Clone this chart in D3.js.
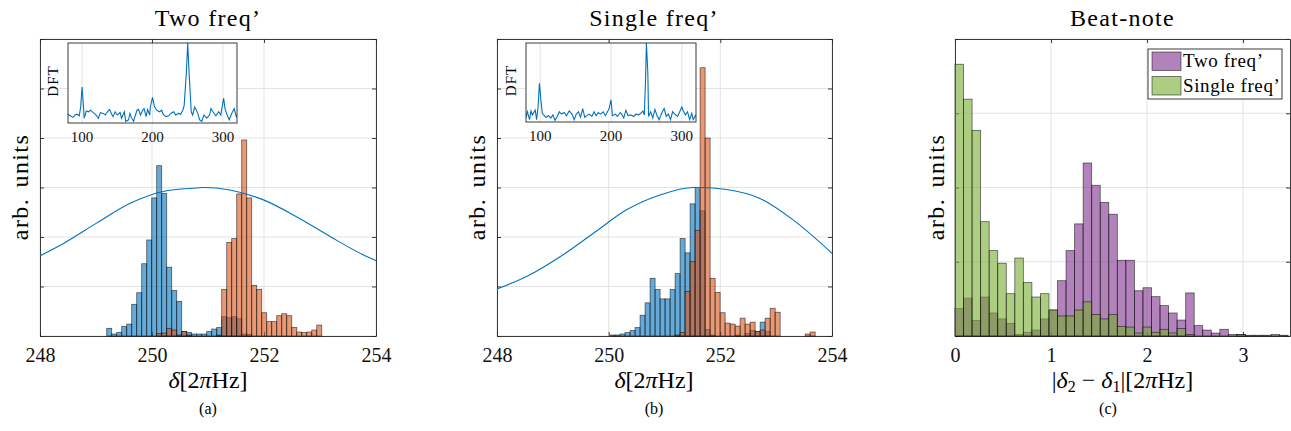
<!DOCTYPE html>
<html>
<head>
<meta charset="utf-8">
<script src="https://cdn.jsdelivr.net/npm/d3@7"></script>
<style>
  body { margin: 0; background: #fff; }
  svg { display: block; font-family: "Liberation Serif", "Times New Roman", serif; }
</style>
</head>
<body>
<div id="fig"></div>
<script>
// ---------- data ----------
// Panel (a) "Two freq'" histogram bins
const twoBinStart = 249.191;
const twoBinWidth = 0.0893;
const twoBlue = [0.155,0.04,0.074,0.195,0.24,0.64,0.875,1.46,1.94,2.79,
                 3.44,2.88,1.39,0.92,0.70,0.09,0.07,0.04,0.04,0.04,
                 0.09,0.14,0.17,0.39,0.37,0.39,0.35,0.04,0.03];
const twoOrange = [0,0,0,0,0,0,0,0,0,0,
                   0.05,0.06,0.155,0.12,0.02,0.09,0.02,0,0,0,
                   0,0,0.02,0.94,1.89,1.97,2.87,3.96,2.79,1.02,
                   0.94,0.47,0.29,0.29,0.41,0.45,0.41,0.17,0.08,0.07,
                   0.08,0.12,0.22];
const twoCurveX = [248.0,248.42,249.01,249.61,250.20,250.80,250.92,251.39,251.99,252.58,253.18,253.77,254.0];
const twoCurveY = [1.62,1.87,2.28,2.68,2.92,2.99,3.0,2.95,2.75,2.41,2.01,1.64,1.52];

// Panel (b) "Single freq'"
const singleBinStart = 250.025;
const singleBinWidth = 0.0896;
const singleBlue = [0.02,0.02,0.04,0.07,0.11,0.17,0.42,0.67,1.165,0.94,
                    0.75,0.75,0.94,1.26,1.97,1.68,2.67,3.0,2.53,0.13,
                    0.02,0,0,0,0,0.02,0,0.05,0.11,0.09,
                    0.28,0.09];
const singleOrange = [0,0,0,0,0,0,0,0,0,0,
                      0,0,0,0.02,0.07,0.9,1.5,2.13,5.42,4.0,
                      1.165,0.88,0.47,0.26,0.24,0.2,0.36,0.24,0.28,0.09,
                      0.12,0.36,0.56,0.48,0,0,0,0,0,0.04,
                      0.08];
const singleCurveX = [248.0,248.53,249.13,249.72,250.32,250.92,251.52,251.64,252.11,252.71,253.31,254.0];
const singleCurveY = [0.95,1.20,1.60,2.07,2.55,2.85,3.0,3.0,2.96,2.78,2.34,1.67];

// Insets: DFT traces
const dftXA = [80,83,87,90,93,96,98,100,102,103,106,109,112,116,120,123,126,130,133,136,
               139,142,144,147,150,154,156,160,162,166,168,170,173,178,180,183,186,188,191,193,
               196,197,200,203,206,210,213,215,219,223,226,230,233,237,240,243,245,248,250,252,
               255,257,260,264,267,270,273,277,281,283,286,290,294,297,301,303,306,309,312,316,
               319,320];
const dftYA = [0.11,0.09,0.07,0.10,0.11,0.09,0.20,0.45,0.20,0.06,0.15,0.14,0.16,0.13,0.10,0.06,0.13,0.12,0.10,0.14,
               0.17,0.11,0.08,0.14,0.10,0.13,0.06,0.14,0.02,0.04,0.12,0.07,0.02,0.16,0.17,0.10,0.16,0.18,0.08,0.17,
               0.10,0.20,0.32,0.20,0.16,0.14,0.16,0.11,0.08,0.09,0.12,0.14,0.10,0.12,0.11,0.16,0.22,0.62,1.0,0.62,
               0.14,0.10,0.20,0.13,0.04,0.02,0.10,0.06,0.10,0.18,0.14,0.09,0.14,0.10,0.31,0.18,0.10,0.04,0.11,0.18,
               0.08,0.10];
const dftXB = [80,82,85,87,89,93,95,97,99,101,103,105,108,112,115,118,121,124,127,130,
               134,137,141,145,148,151,154,157,160,163,166,169,173,176,179,182,185,189,192,195,
               197,200,202,206,209,213,215,218,221,224,228,232,235,239,242,245,247,248.5,250,252,
               253,256,259,262,265,268,272,275,278,281,284,287,290,294,297,300,302,305,308,311,
               314,316,320];
const dftYB = [0.06,0.13,0.03,0.14,0.09,0.15,0.03,0.19,0.49,0.28,0.11,0.09,0.06,0.08,0.05,0.09,0.02,0.07,0.13,0.10,
               0.12,0.08,0.14,0.10,0.03,0.10,0.13,0.06,0.17,0.06,0.08,0.10,0.07,0.13,0.08,0.12,0.10,0.13,0.08,0.13,
               0.16,0.28,0.08,0.10,0.07,0.12,0.10,0.05,0.15,0.08,0.09,0.07,0.10,0.09,0.11,0.14,0.09,0.45,1.0,0.62,
               0.07,0.13,0.05,0.16,0.08,0.03,0.12,0.17,0.07,0.10,0.03,0.13,0.10,0.07,0.13,0.19,0.14,0.09,0.13,0.03,
               0.11,0.03,0.09];

// Panel (c) beat-note histograms
const beatBinStart = 0;
const beatBinWidth = 0.089;
const beatTwo = [0.37,0.51,0.21,0.525,0.31,0.23,0.17,0.02,0.05,0.08,
                 0.23,0.35,0.745,1.15,1.51,2.33,2.03,1.80,1.64,1.02,
                 1.02,0.61,0.65,0.53,0.41,0.31,0.215,0.58,0.14,0.08,
                 0.04,0.09,0.02,0.02,0.01,0.01,0.01,0.02,0.01];
const beatSingle = [3.66,3.19,2.77,1.54,1.15,0.98,0.57,1.05,0.72,0.525,
                    0.57,0.35,0.27,0.27,0.35,0.46,0.29,0.23,0.29,0.13,
                    0.12,0.04,0.12,0.05,0.09,0.04,0.10,0.02,0,0,
                    0,0,0,0.02];

const deltaTicks = [248, 250, 252, 254];
const beatTicks = [0, 1, 2, 3];
const dftTicks = [100, 200, 300];
const legendNames = ["Two freq’", "Single freq’"];

// ---------- style constants ----------
const W = 1291, H = 431;
const axTop = 39, axBottom = 336;
const axisColor = "#262626";
const gridColor = "#e3e3e3";
const blue = "#0072BD", orange = "#D95319", purple = "#7E2F8E", green = "#77AC30";
const faceAlpha = 0.6;

const svg = d3.select("#fig").append("svg")
  .attr("width", W).attr("height", H)
  .attr("viewBox", `0 0 ${W} ${H}`);

const toBins = (counts, start, width) =>
  counts.map((v, i) => ({ x0: start + i * width, x1: start + (i + 1) * width, v }))
        .filter(d => d.v > 0);

// Frame, grid and inward ticks in the MATLAB style
const drawFrame = (g, x, y, xTicks, yTicks) => {
  const [x0, x1] = x.range();
  const [y0, y1] = y.range();
  const grid = g.append("g").attr("class", "grid");
  grid.selectAll(".gx").data(xTicks).join("line")
    .attr("x1", d => x(d)).attr("x2", d => x(d))
    .attr("y1", y1).attr("y2", y0)
    .attr("stroke", gridColor).attr("stroke-width", 1);
  grid.selectAll(".gy").data(yTicks).join("line")
    .attr("x1", x0).attr("x2", x1)
    .attr("y1", d => y(d)).attr("y2", d => y(d))
    .attr("stroke", gridColor).attr("stroke-width", 1);

  const axes = g.append("g").attr("class", "frame");
  axes.append("g").attr("transform", `translate(0,${y0})`)
    .call(d3.axisBottom(x).tickValues(xTicks).tickSize(-4).tickSizeOuter(0)
      .tickPadding(12).tickFormat(d3.format("d")));
  axes.append("g").attr("transform", `translate(0,${y1})`)
    .call(d3.axisTop(x).tickValues(xTicks).tickSize(-4).tickSizeOuter(0).tickFormat(""));
  axes.append("g").attr("transform", `translate(${x0},0)`)
    .call(d3.axisLeft(y).tickValues(yTicks).tickSize(-4).tickSizeOuter(0).tickFormat(""));
  axes.append("g").attr("transform", `translate(${x1},0)`)
    .call(d3.axisRight(y).tickValues(yTicks).tickSize(-4).tickSizeOuter(0).tickFormat(""));
  axes.selectAll("path.domain").attr("stroke", axisColor).attr("stroke-width", 0.9);
  axes.selectAll(".tick line").attr("stroke", axisColor).attr("stroke-width", 0.9);
  axes.selectAll(".tick text")
    .attr("fill", "#111").style("font-size", "20px")
    .style("font-family", "'Liberation Serif', serif");
};

const drawBars = (g, bins, x, y, color) => {
  g.append("g").selectAll("rect").data(bins).join("rect")
    .attr("x", d => x(d.x0))
    .attr("width", d => x(d.x1) - x(d.x0))
    .attr("y", d => y(d.v))
    .attr("height", d => y(0) - y(d.v))
    .attr("fill", color).attr("fill-opacity", faceAlpha)
    .attr("stroke", "#000").attr("stroke-opacity", 0.6).attr("stroke-width", 0.8);
};

const addTitle = (cx, text) => {
  svg.append("text").attr("x", cx).attr("y", 26)
    .attr("text-anchor", "middle").style("font-size", "24px")
    .style("letter-spacing", "1.3px").text(text);
};

const addYLabel = (bx) => {
  svg.append("text")
    .attr("transform", `translate(${bx},187) rotate(-90)`)
    .attr("text-anchor", "middle").style("font-size", "24px")
    .style("letter-spacing", "1.4px").style("word-spacing", "3px")
    .text("arb. units");
};

const addDeltaLabel = (cx) => {
  const t = svg.append("text").attr("x", cx).attr("y", 388)
    .attr("text-anchor", "middle").style("font-size", "24px");
  t.append("tspan").style("font-style", "italic").text("δ");
  t.append("tspan").text("[2");
  t.append("tspan").style("font-style", "italic").text("π");
  t.append("tspan").text("Hz]");
};

const addSubLabel = (cx, text) => {
  svg.append("text").attr("x", cx).attr("y", 414)
    .attr("text-anchor", "middle").style("font-size", "16px").text(text);
};

// Inset with DFT spectrum
const drawInset = (box, xs, ys) => {
  const x = d3.scaleLinear().domain([80, 320]).range([box.left, box.right]);
  const y = d3.scaleLinear().domain([0, 1]).range([box.bottom, box.top]);
  const g = svg.append("g").attr("class", "inset");
  g.append("rect")
    .attr("x", box.left).attr("y", box.top)
    .attr("width", box.right - box.left).attr("height", box.bottom - box.top)
    .attr("fill", "#fff");
  g.selectAll(".ig").data(dftTicks).join("line")
    .attr("x1", d => x(d)).attr("x2", d => x(d))
    .attr("y1", box.top).attr("y2", box.bottom)
    .attr("stroke", gridColor).attr("stroke-width", 1);
  const clipId = "clip" + Math.round(box.left);
  g.append("clipPath").attr("id", clipId).append("rect")
    .attr("x", box.left).attr("y", box.top)
    .attr("width", box.right - box.left).attr("height", box.bottom - box.top);
  const pts = xs.map((v, i) => [v, ys[i]]);
  g.append("path").datum(pts)
    .attr("clip-path", `url(#${clipId})`)
    .attr("fill", "none").attr("stroke", blue).attr("stroke-width", 1.1)
    .attr("d", d3.line().x(d => x(d[0])).y(d => y(d[1])));
  g.append("rect")
    .attr("x", box.left).attr("y", box.top)
    .attr("width", box.right - box.left).attr("height", box.bottom - box.top)
    .attr("fill", "none").attr("stroke", axisColor).attr("stroke-width", 0.9);
  g.selectAll(".il").data(dftTicks).join("text")
    .attr("x", d => x(d)).attr("y", box.bottom + 19)
    .attr("text-anchor", "middle").style("font-size", "15px").attr("fill", "#111")
    .text(d => d);
  g.append("text")
    .attr("transform", `translate(${box.left - 10},${(box.top + box.bottom) / 2 - 2}) rotate(-90)`)
    .attr("text-anchor", "middle").style("font-size", "15px")
    .style("letter-spacing", "1px").text("DFT");
};

// Panels (a) and (b): two detuning histograms + lineshape + inset
const drawDeltaPanel = (p) => {
  const x = d3.scaleLinear().domain([248, 254]).range([p.left, p.right]);
  const y = d3.scaleLinear().domain([0, 6]).range([axBottom, axTop]);
  const g = svg.append("g");
  drawFrame(g, x, y, deltaTicks, d3.range(0, 7));
  drawBars(g, toBins(p.blue, p.start, p.width), x, y, blue);
  drawBars(g, toBins(p.orange, p.start, p.width), x, y, orange);
  const pts = p.cx.map((v, i) => [v, p.cy[i]]);
  g.append("path").datum(pts)
    .attr("fill", "none").attr("stroke", blue).attr("stroke-width", 1.1)
    .attr("d", d3.line().x(d => x(d[0])).y(d => y(d[1])).curve(d3.curveMonotoneX));
  drawInset(p.inset, p.dx, p.dy);
  addTitle(p.labelX, p.title);
  addYLabel(p.ylab);
  addDeltaLabel(p.labelX);
  addSubLabel(p.labelX, p.sub);
};

drawDeltaPanel({
  left: 40, right: 376, title: "Two freq’", sub: "(a)", ylab: 28, labelX: 208,
  start: twoBinStart, width: twoBinWidth, blue: twoBlue, orange: twoOrange,
  cx: twoCurveX, cy: twoCurveY,
  inset: { left: 68, right: 237, top: 43, bottom: 123 }, dx: dftXA, dy: dftYA
});
drawDeltaPanel({
  left: 497, right: 832, title: "Single freq’", sub: "(b)", ylab: 485, labelX: 654,
  start: singleBinStart, width: singleBinWidth, blue: singleBlue, orange: singleOrange,
  cx: singleCurveX, cy: singleCurveY,
  inset: { left: 526, right: 696, top: 43, bottom: 122 }, dx: dftXB, dy: dftYB
});

// Panel (c): beat-note histograms with legend
const drawBeatPanel = () => {
  const left = 955, right = 1290;
  const x = d3.scaleLinear().domain([0, 3.49]).range([left, right]);
  const y = d3.scaleLinear().domain([0, 4]).range([axBottom, axTop]);
  const g = svg.append("g");
  drawFrame(g, x, y, beatTicks, d3.range(0, 5));
  drawBars(g, toBins(beatTwo, beatBinStart, beatBinWidth), x, y, purple);
  drawBars(g, toBins(beatSingle, beatBinStart, beatBinWidth), x, y, green);

  // legend
  const lg = svg.append("g").attr("class", "legend");
  lg.append("rect").attr("x", 1148).attr("y", 49).attr("width", 134).attr("height", 50)
    .attr("fill", "#fff").attr("stroke", axisColor).attr("stroke-width", 0.9);
  [purple, green].forEach((c, i) => {
    lg.append("rect").attr("x", 1152).attr("y", 52 + i * 24.5).attr("width", 29).attr("height", 18.5)
      .attr("fill", c).attr("fill-opacity", faceAlpha)
      .attr("stroke", "#000").attr("stroke-opacity", 0.6).attr("stroke-width", 0.8);
    lg.append("text").attr("x", 1183).attr("y", 67 + i * 24.5)
      .style("font-size", "19px").style("letter-spacing", "0.6px").text(legendNames[i]);
  });

  const cx = (left + right) / 2;
  addTitle(cx, "Beat-note");
  addYLabel(944);
  const t = svg.append("text").attr("x", cx).attr("y", 388)
    .attr("text-anchor", "middle").style("font-size", "24px");
  t.append("tspan").text("|");
  t.append("tspan").style("font-style", "italic").text("δ");
  t.append("tspan").attr("baseline-shift", "-25%").style("font-size", "16px").text("2");
  t.append("tspan").text(" − ");
  t.append("tspan").style("font-style", "italic").text("δ");
  t.append("tspan").attr("baseline-shift", "-25%").style("font-size", "16px").text("1");
  t.append("tspan").text("|[2");
  t.append("tspan").style("font-style", "italic").text("π");
  t.append("tspan").text("Hz]");
  addSubLabel(1108, "(c)");
};
drawBeatPanel();
</script>
</body>
</html>
